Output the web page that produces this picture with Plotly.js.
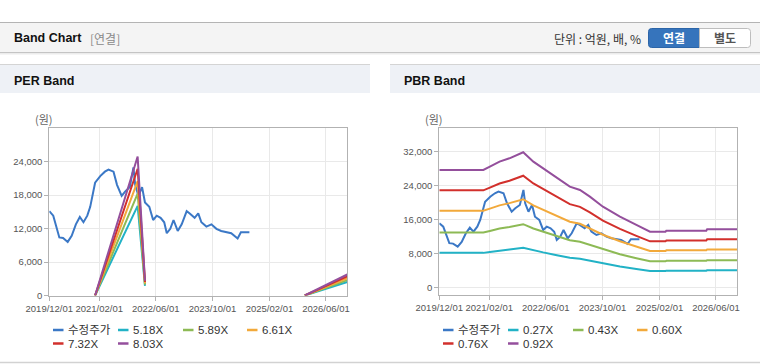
<!DOCTYPE html>
<html><head><meta charset="utf-8">
<script src="https://cdn.plot.ly/plotly-3.0.1.min.js"></script>
<style>html,body{margin:0;padding:0;background:#fff;}#chart{width:760px;height:364px;}</style>
</head><body><div id="chart"></div>
<script>
// ---------- data ----------
const priceDates = ['2019-12-01','2020-01-04','2020-02-25','2020-03-28','2020-05-07','2020-06-10','2020-07-16','2020-08-19','2020-09-19','2020-10-22','2020-11-16','2020-12-28','2021-02-10','2021-03-22','2021-04-22','2021-06-04','2021-07-04','2021-08-13','2021-09-13','2021-10-22','2021-11-22','2021-12-07','2022-01-04','2022-02-04','2022-03-01','2022-04-07','2022-05-10','2022-06-10','2022-07-13','2022-08-13','2022-09-04','2022-10-04','2022-11-01','2022-12-07','2023-01-10','2023-02-22','2023-03-20','2023-05-01','2023-06-01','2023-06-28','2023-08-10','2023-09-22','2023-11-04','2023-12-15','2024-03-10','2024-05-04','2024-06-01','2024-08-13'];
const priceValues = [15100,14300,10400,10300,9600,10700,12740,14070,13120,14300,15880,20200,21380,22180,22560,22180,19820,17840,18640,19420,22960,19820,17840,19420,16660,15880,13520,14300,13920,13120,11160,11940,13520,11560,12740,15100,14700,13920,14700,13120,12340,12740,11940,11560,11160,10220,11330,11330];

const perBandDates = ['2020-12-28','2021-12-28','2022-03-01','2024-01-01','2025-12-01','2026-12-01'];
const perBand518 = [0,16060,1710,null,0,2420];
const perBand589 = [0,18260,1940,null,0,2760];
const perBand661 = [0,20500,2180,null,0,3090];
const perBand732 = [0,22700,2420,null,0,3430];
const perBand803 = [0,24900,2650,null,0,3760];

const pbrBandDates = ['2019-12-01','2020-12-13','2021-02-07','2021-05-01','2021-07-25','2021-11-20','2022-02-15','2022-05-10','2022-09-05','2022-12-25','2023-03-22','2023-06-15','2023-10-05','2024-02-28','2024-07-18','2024-11-12','2025-03-25','2025-04-01','2026-03-10','2026-03-17','2026-12-01'];
const pbrBand027 = [8120,8120,8350,8700,8930,9350,8700,8240,7550,6970,6740,6270,5580,4890,4310,3850,3850,3920,3920,4020,4020];
const pbrBand043 = [12940,12940,13300,13860,14220,14890,13860,13120,12020,11090,10730,9990,8890,7790,6870,6130,6130,6240,6240,6400,6400];
const pbrBand060 = [18050,18050,18560,19330,19850,20780,19330,18310,16780,15480,14980,13940,12400,10870,9590,8560,8560,8710,8710,8930,8930];
const pbrBand076 = [22870,22870,23510,24490,25140,26320,24490,23200,21250,19610,18970,17660,15710,13760,12140,10840,10840,11040,11040,11310,11310];
const pbrBand092 = [27680,27680,28460,29640,30430,31860,29640,28080,25720,23740,22960,21380,19020,16660,14700,13120,13120,13360,13360,13690,13690];

const perLegend = ['수정주가','5.18X','5.89X','6.61X','7.32X','8.03X'];
const pbrLegend = ['수정주가','0.27X','0.43X','0.60X','0.76X','0.92X'];
const xTickVals = ['2019-12-01','2021-02-01','2022-06-01','2023-10-01','2025-02-01','2026-06-01'];
const xTickText = ['2019/12/01','2021/02/01','2022/06/01','2023/10/01','2025/02/01','2026/06/01'];
const perYTicks = [0,6000,12000,18000,24000];
const pbrYTicks = [0,8000,16000,24000,32000];

// ---------- styling ----------
const W = 760, H = 364;
const colors = ['#3b78c6','#22b2c6','#8dba55','#f2a93b','#d2302c','#944f9c'];
const FONT = 'Liberation Sans, Noto Sans CJK KR, sans-serif';
const KFONT = 'Noto Sans CJK KR, Liberation Sans, sans-serif';
const fx = x => x / W, fy = y => 1 - y / H;

const perSeries = [priceValues, perBand518, perBand589, perBand661, perBand732, perBand803];
const pbrSeries = [priceValues, pbrBand027, pbrBand043, pbrBand060, pbrBand076, pbrBand092];

const traces = [];
perSeries.forEach((vals, i) => traces.push({
  type:'scatter', mode:'lines', x: i === 0 ? priceDates : perBandDates, y: vals,
  name: perLegend[i], xaxis:'x', yaxis:'y', connectgaps:false,
  line:{color:colors[i], width:2}, hoverinfo:'skip', showlegend:false
}));
pbrSeries.forEach((vals, i) => traces.push({
  type:'scatter', mode:'lines', x: i === 0 ? priceDates : pbrBandDates, y: vals,
  name: pbrLegend[i], xaxis:'x2', yaxis:'y2',
  line:{color:colors[i], width:2}, hoverinfo:'skip', showlegend:false
}));

function xAxis(d0, d1, anchor){
  return {type:'date', domain:[fx(d0), fx(d1)], range:['2019-12-01','2026-12-01'], anchor,
    tickmode:'array', tickvals:xTickVals, ticktext:xTickText, tickangle:0,
    showgrid:true, gridcolor:'#e9e9e9', gridwidth:1, zeroline:false,
    showline:true, linecolor:'#b2b2b2', linewidth:1, mirror:true,
    ticks:'outside', ticklen:4, tickcolor:'#b2b2b2',
    tickfont:{family:FONT, size:9.5, color:'#555'}, fixedrange:true};
}
function yAxis(top, bottom, range, ticks, anchor){
  return {domain:[fy(bottom), fy(top)], range, anchor, tickmode:'array', tickvals:ticks,
    tickformat:',d', showgrid:true, gridcolor:'#e9e9e9', gridwidth:1, zeroline:false,
    showline:true, linecolor:'#b2b2b2', linewidth:1, mirror:true,
    ticks:'outside', ticklen:4, tickcolor:'#b2b2b2',
    tickfont:{family:FONT, size:9.5, color:'#555'}, fixedrange:true};
}

function rectPath(x0,y0,x1,y1,rl,rr){
  const P=(x,y)=>fx(x)+','+fy(y);
  let p = 'M'+P(x0+rl,y0)+' L'+P(x1-rr,y0);
  if (rr) p += ' Q'+P(x1,y0)+' '+P(x1,y0+rr);
  p += ' L'+P(x1,y1-rr);
  if (rr) p += ' Q'+P(x1,y1)+' '+P(x1-rr,y1);
  p += ' L'+P(x0+rl,y1);
  if (rl) p += ' Q'+P(x0,y1)+' '+P(x0,y1-rl);
  p += ' L'+P(x0,y0+rl);
  if (rl) p += ' Q'+P(x0,y0)+' '+P(x0+rl,y0);
  return p + ' Z';
}

const shapes = [
  // top header bar
  {type:'rect', xref:'paper', yref:'paper', x0:0, x1:1, y0:fy(52.5), y1:fy(22.5), fillcolor:'#f4f4f4', line:{width:0}, layer:'below'},
  {type:'line', xref:'paper', yref:'paper', x0:0, x1:1, y0:fy(22.5), y1:fy(22.5), line:{color:'#b4b4b4', width:1}},
  {type:'line', xref:'paper', yref:'paper', x0:0, x1:1, y0:fy(52.5), y1:fy(52.5), line:{color:'#c4c4c4', width:1}},
  {type:'line', xref:'paper', yref:'paper', x0:0, x1:1, y0:fy(53.8), y1:fy(53.8), line:{color:'#ececec', width:1.5}},
  // buttons
  {type:'path', xref:'paper', yref:'paper', path:rectPath(648.5,28.5,699.5,47.5,3,0), fillcolor:'#3674bc', line:{color:'#2c65a8', width:1}},
  {type:'path', xref:'paper', yref:'paper', path:rectPath(699.5,28.5,750.5,47.5,0,3), fillcolor:'#ffffff', line:{color:'#bdbdbd', width:1}},
  // panel headers
  {type:'rect', xref:'paper', yref:'paper', x0:0, x1:fx(370), y0:fy(93), y1:fy(64.5), fillcolor:'#eef1f6', line:{width:0}, layer:'below'},
  {type:'line', xref:'paper', yref:'paper', x0:0, x1:fx(370), y0:fy(64.5), y1:fy(64.5), line:{color:'#d4d4d4', width:1}},
  {type:'rect', xref:'paper', yref:'paper', x0:fx(390), x1:1, y0:fy(93), y1:fy(64.5), fillcolor:'#eef1f6', line:{width:0}, layer:'below'},
  {type:'line', xref:'paper', yref:'paper', x0:fx(390), x1:1, y0:fy(64.5), y1:fy(64.5), line:{color:'#d4d4d4', width:1}},
  // bottom line
  {type:'line', xref:'paper', yref:'paper', x0:0, x1:1, y0:fy(362.5), y1:fy(362.5), line:{color:'#d2d2d2', width:1.5}}
];

const annotations = [
  {text:'<b>Band Chart</b>', x:fx(11.5), y:fy(38.5), xanchor:'left', yanchor:'middle', font:{family:FONT, size:12.5, color:'#111'}},
  {text:'[연결]', x:fx(87.5), y:fy(38.5), xanchor:'left', yanchor:'middle', font:{family:KFONT, size:12, color:'#8a8a8a'}},
  {text:'단위 : 억원, 배, %', x:fx(551.5), y:fy(38.5), xanchor:'left', yanchor:'middle', font:{family:KFONT, size:12, color:'#333'}},
  {text:'<b>연결</b>', x:fx(674), y:fy(38), xanchor:'center', yanchor:'middle', font:{family:KFONT, size:12, color:'#ffffff'}},
  {text:'<b>별도</b>', x:fx(725), y:fy(38), xanchor:'center', yanchor:'middle', font:{family:KFONT, size:12, color:'#555'}},
  {text:'<b>PER Band</b>', x:fx(11.5), y:fy(80.5), xanchor:'left', yanchor:'middle', font:{family:FONT, size:12.5, color:'#111'}},
  {text:'<b>PBR Band</b>', x:fx(401.5), y:fy(80.5), xanchor:'left', yanchor:'middle', font:{family:FONT, size:12.5, color:'#111'}},
  {text:'(원)', x:fx(33), y:fy(119), xanchor:'left', yanchor:'middle', font:{family:KFONT, size:11, color:'#666'}},
  {text:'(원)', x:fx(423), y:fy(119), xanchor:'left', yanchor:'middle', font:{family:KFONT, size:11, color:'#666'}}
];
annotations.forEach(a => { a.xref='paper'; a.yref='paper'; a.showarrow=false; });

// custom legends
const legendSlots = [[53,330],[118,330],[183,330],[247,330],[53,343.5],[118,343.5]];
function addLegend(labels, offset){
  labels.forEach((lab, i) => {
    const [lx, ly] = legendSlots[i];
    shapes.push({type:'line', xref:'paper', yref:'paper', x0:fx(lx+offset), x1:fx(lx+offset+10.5), y0:fy(ly), y1:fy(ly), line:{color:colors[i], width:2.5}});
    annotations.push({text:lab, xref:'paper', yref:'paper', showarrow:false, x:fx(lx+offset+13), y:fy(ly), xanchor:'left', yanchor:'middle', font:{family:FONT, size:11.5, color:'#333'}});
  });
}
addLegend(perLegend, 0);
addLegend(pbrLegend, 390);

const layout = {
  width:W, height:H, autosize:false, margin:{l:0,r:0,t:0,b:0},
  paper_bgcolor:'#ffffff', plot_bgcolor:'#ffffff', showlegend:false,
  xaxis: xAxis(49.3, 347.3, 'y'),
  yaxis: yAxis(128, 295.5, [0, 30000], perYTicks, 'x'),
  xaxis2: xAxis(439.3, 737.3, 'y2'),
  yaxis2: yAxis(128, 295, [-1820, 37580], pbrYTicks, 'x2'),
  shapes, annotations
};

Plotly.newPlot('chart', traces, layout, {displayModeBar:false, staticPlot:true});
</script></body></html>
